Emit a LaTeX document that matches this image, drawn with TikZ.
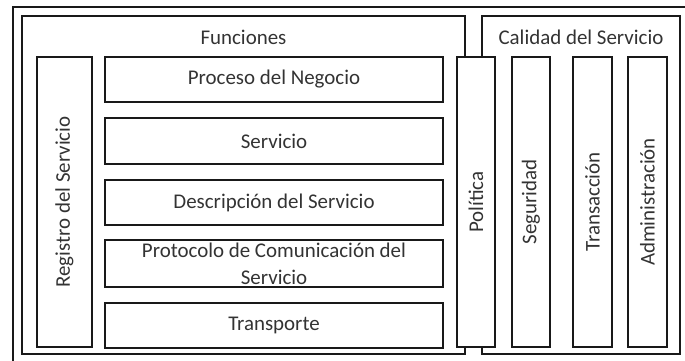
\documentclass[tikz,border=0pt]{standalone}
\usepackage{fontspec}
\setmainfont{Carlito}
\begin{document}
\begin{tikzpicture}[x=1bp,y=-1bp,
  frame/.style={draw=black!90, line width=2bp},
  box/.style={draw=black!90, line width=2bp, inner sep=0pt},
  lbl/.style={text=black!80, inner sep=0pt, font=\fontsize{21}{27}\selectfont, align=center}]
\useasboundingbox (0,0) rectangle (685,360);
\clip (0,0) rectangle (685,360);
% outer frame (cropped)
\draw[frame] (13,370) -- (13,7) -- (695,7);
% group outlines
\draw[frame] (465,57) -- (465,16) -- (22,16) -- (22,354) -- (465,354) -- (465,347);
\draw[frame] (482,57) -- (482,16) -- (680,16) -- (680,354) -- (482,354) -- (482,347);
\node[lbl] (funciones) at (243.5,37) {Funciones};
\node[lbl] (calidad) at (581,37) {Calidad del Servicio};
% horizontal boxes
\node[box, lbl, draw=black!90, minimum width=338bp, minimum height=45bp] (proc) at (274,79.5) {Proceso del Negocio};
\node[box, lbl, draw=black!90, minimum width=338bp, minimum height=46bp] (serv) at (274,141) {Servicio};
\node[box, lbl, draw=black!90, minimum width=338bp, minimum height=45bp] (desc) at (274,202.5) {Descripción del Servicio};
\node[box, minimum width=338bp, minimum height=47bp] (prot) at (274,263.5) {};
\node[lbl] (protl) at (prot.center) {Protocolo de Comunicación del\\Servicio};
\node[box, lbl, draw=black!90, minimum width=338bp, minimum height=45bp] (trans) at (274,325.5) {Transporte};
% vertical boxes
\node[box, minimum width=55bp, minimum height=290bp] (reg) at (64.5,202) {};
\node[lbl, rotate=90] (regl) at (reg.center) {Registro del Servicio};
\node[box, minimum width=38bp, minimum height=290bp] (pol) at (476,202) {};
\node[lbl, rotate=90] (poll) at (pol.center) {Política};
\node[box, minimum width=38bp, minimum height=290bp] (seg) at (531,202) {};
\node[lbl, rotate=90] (segl) at (seg.center) {Seguridad};
\node[box, minimum width=39bp, minimum height=290bp] (tra) at (592.5,202) {};
\node[lbl, rotate=90] (tral) at (tra.center) {Transacción};
\node[box, minimum width=39bp, minimum height=290bp] (adm) at (647.5,202) {};
\node[lbl, rotate=90] (adml) at (adm.center) {Administración};
\end{tikzpicture}
\end{document}
